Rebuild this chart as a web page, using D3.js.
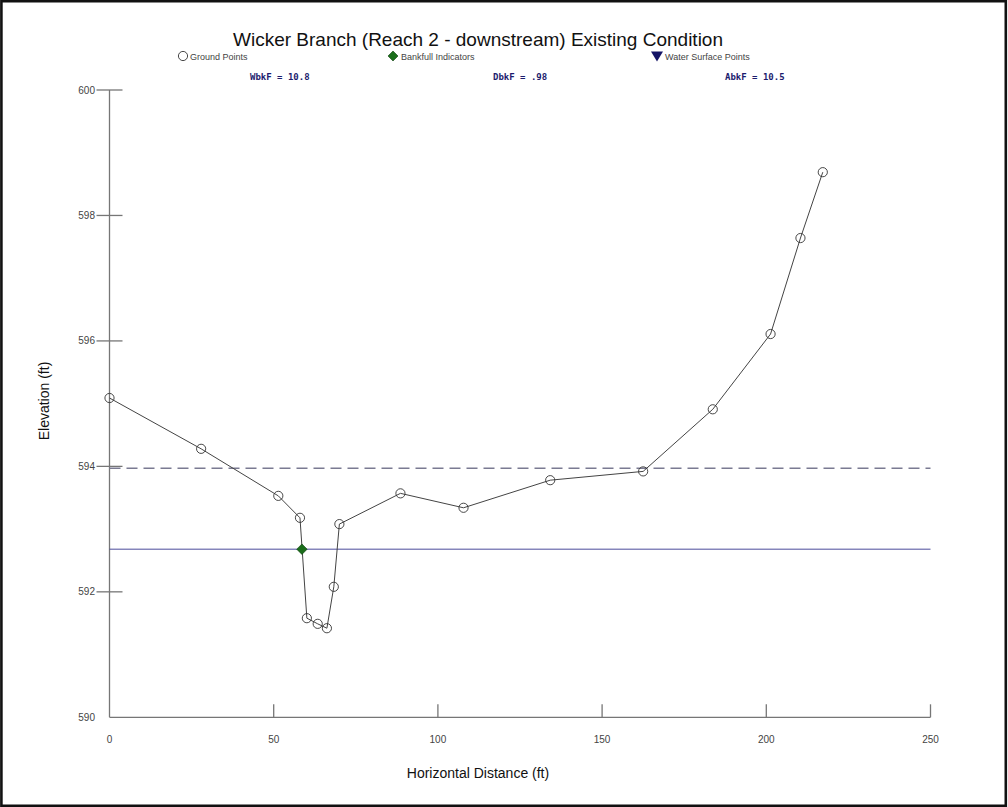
<!DOCTYPE html>
<html><head><meta charset="utf-8">
<script src="https://cdn.jsdelivr.net/npm/d3@7"></script>
<style>body{margin:0;background:#fff;} svg{display:block;}</style>
</head><body>
<svg id="chart" width="1008" height="807"></svg>
<script>
const title = "Wicker Branch (Reach 2 - downstream) Existing Condition";
const groundX = [0, 27.9, 51.4, 58.0, 60.1, 63.4, 66.2, 68.3, 70.0, 88.6, 107.8, 134.2, 162.5, 183.7, 201.3, 210.4, 217.2];
const groundY = [595.09, 594.28, 593.53, 593.18, 591.58, 591.49, 591.42, 592.08, 593.08, 593.57, 593.34, 593.78, 593.92, 594.91, 596.11, 597.64, 598.69];
const bankfullX = [58.6];
const bankfullY = [592.68];
const bankfullElev = 592.68;
const floodproneElev = 593.97;
const xTicks = [0, 50, 100, 150, 200, 250];
const yTicks = [590, 592, 594, 596, 598, 600];
const legendLabels = ["Ground Points", "Bankfull Indicators", "Water Surface Points"];
const statLabels = ["WbkF = 10.8", "DbkF = .98", "AbkF = 10.5"];

const svg = d3.select("#chart");
const x = d3.scaleLinear().domain([0, 250]).range([109.5, 930.5]);
const y = d3.scaleLinear().domain([590, 600]).range([717.3, 90]);
const axisColor = "#767676";

// border
svg.append("rect").attr("x", 1.4).attr("y", 1.2).attr("width", 1004.4).attr("height", 804.6)
  .attr("fill", "none").attr("stroke", "#111").attr("stroke-width", 2.6);

// title
svg.append("text").attr("x", 478).attr("y", 46).attr("text-anchor", "middle")
  .attr("font-family", "Liberation Sans, Arial, sans-serif").attr("font-size", 19).attr("fill", "#111").text(title);

// legend
const lg = svg.append("g").attr("font-family", "Liberation Sans, Arial, sans-serif").attr("font-size", 9).attr("fill", "#444");
lg.append("circle").attr("cx", 183).attr("cy", 56).attr("r", 4.6).attr("fill", "#fff").attr("stroke", "#333").attr("stroke-width", 0.9);
lg.append("text").attr("x", 190).attr("y", 59.5).text(legendLabels[0]);
lg.append("path").attr("d", d3.symbol().type(d3.symbolDiamond2).size(64)()).attr("transform", "translate(393,56)")
  .attr("fill", "#1b6e1b").attr("stroke", "#0d400d").attr("stroke-width", 0.6);
lg.append("text").attr("x", 401).attr("y", 59.5).text(legendLabels[1]);
lg.append("path").attr("d", "M651,51.5 L663,51.5 L657,61.5 Z").attr("fill", "#141466");
lg.append("text").attr("x", 665).attr("y", 59.5).text(legendLabels[2]);

// stats
const statX = [250, 493, 725];
statLabels.forEach((s, i) => {
  svg.append("text").attr("x", statX[i]).attr("y", 79.5)
    .attr("font-family", "DejaVu Sans Mono, monospace").attr("font-weight", "bold").attr("font-size", 9)
    .attr("fill", "#1c1c6e").text(s);
});

// axes
const ax = svg.append("g").attr("stroke", axisColor).attr("stroke-width", 1.3).attr("fill", "none");
ax.append("line").attr("x1", x(0)).attr("x2", x(0)).attr("y1", y(600)).attr("y2", y(590));
ax.append("line").attr("x1", x(0)).attr("x2", x(250)).attr("y1", y(590)).attr("y2", y(590));
yTicks.forEach(t => {
  if (t === 590) return;
  ax.append("line").attr("x1", x(0) - 13).attr("x2", x(0) + 13).attr("y1", y(t)).attr("y2", y(t));
});
xTicks.forEach(t => {
  if (t === 0) return;
  ax.append("line").attr("x1", x(t)).attr("x2", x(t)).attr("y1", y(590) - 13).attr("y2", y(590));
});
const tl = svg.append("g").attr("font-family", "Liberation Sans, Arial, sans-serif").attr("font-size", 10).attr("fill", "#444");
yTicks.forEach(t => {
  tl.append("text").attr("x", 95).attr("y", y(t) + 3.5).attr("text-anchor", "end").text(t);
});
xTicks.forEach(t => {
  tl.append("text").attr("x", x(t)).attr("y", 743).attr("text-anchor", "middle").text(t);
});

// axis titles
svg.append("text").attr("transform", "translate(49,401) rotate(-90)").attr("text-anchor", "middle")
  .attr("font-family", "Liberation Sans, Arial, sans-serif").attr("font-size", 14).attr("fill", "#111").text("Elevation (ft)");
svg.append("text").attr("x", 478).attr("y", 778).attr("text-anchor", "middle")
  .attr("font-family", "Liberation Sans, Arial, sans-serif").attr("font-size", 14).attr("fill", "#111").text("Horizontal Distance (ft)");

// reference lines
svg.append("line").attr("x1", x(0)).attr("x2", x(250)).attr("y1", y(floodproneElev)).attr("y2", y(floodproneElev))
  .attr("stroke", "#7a7a92").attr("stroke-width", 1.3).attr("stroke-dasharray", "11,6");
svg.append("line").attr("x1", x(0)).attr("x2", x(250)).attr("y1", y(bankfullElev)).attr("y2", y(bankfullElev))
  .attr("stroke", "#4a4a9a").attr("stroke-width", 1);

// ground line and points
const pts = groundX.map((d, i) => [d, groundY[i]]);
svg.append("path").datum(pts).attr("fill", "none").attr("stroke", "#444").attr("stroke-width", 1)
  .attr("d", d3.line().x(d => x(d[0])).y(d => y(d[1])));
svg.selectAll("circle.gp").data(pts).join("circle").attr("class", "gp")
  .attr("cx", d => x(d[0])).attr("cy", d => y(d[1])).attr("r", 4.6)
  .attr("fill", "none").attr("stroke", "#333").attr("stroke-width", 0.9);

// bankfull indicator
svg.selectAll("path.bf").data(bankfullX.map((d, i) => [d, bankfullY[i]])).join("path").attr("class", "bf")
  .attr("d", d3.symbol().type(d3.symbolDiamond2).size(70)())
  .attr("transform", d => `translate(${x(d[0])},${y(d[1])})`)
  .attr("fill", "#1b6e1b").attr("stroke", "#0d400d").attr("stroke-width", 0.6);
</script>
</body></html>
